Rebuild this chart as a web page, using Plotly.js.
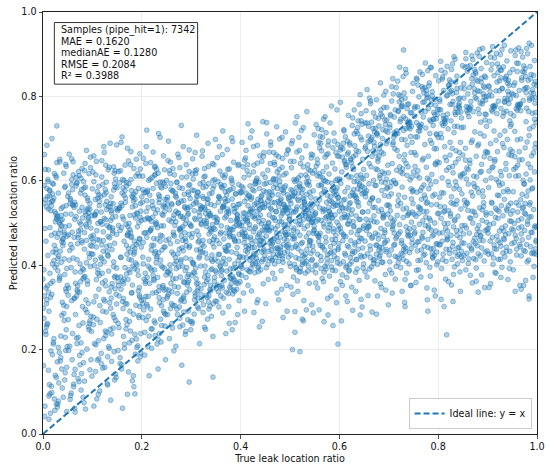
<!DOCTYPE html>
<html>
<head>
<meta charset="utf-8">
<script src="https://cdn.plot.ly/plotly-3.0.1.min.js"></script>
<style>
html,body{margin:0;padding:0;background:#fff;}
#chart{width:550px;height:471px;}
</style>
</head>
<body>
<div id="chart"></div>
<script>
// True leak location ratio (x), grouped by x strips of 0.05
const trueRatio = [
.003,.041,.017,.029,.011,.046,.022,.035,.008,.038,.014,.027,.049,.005,.032,.019,.043,.024,.001,.036,
.012,.045,.021,.031,.007,.039,.016,.028,.047,.010,.034,.023,.042,.002,.030,.018,.044,.026,.009,.037,
.015,.048,.020,.033,.006,.040,.025,.013,.046,.004,.031,.019,.038,.027,.011,.043,.022,.035,.008,.049,
.017,.029,.002,.041,.024,.036,.013,.045,.007,.032,.020,.039,.014,.026,.047,.010,.034,.005,.042,.028,
.064,.077,.099,.055,.082,.069,.093,.074,.051,.086,.062,.095,.071,.081,.057,.089,.066,.078,.097,.060,
.084,.073,.092,.052,.080,.068,.094,.076,.059,.087,.065,.098,.070,.083,.056,.090,.075,.063,.096,.054,
.081,.069,.088,.077,.061,.093,.072,.085,.058,.099,.067,.079,.052,.091,.074,.086,.063,.095,.057,.082,
.070,.089,.064,.076,.097,.060,.084,.055,.092,.078,.053,.091,.067,.079,.061,.096,.072,.085,.058,.088,
.112,.145,.121,.131,.107,.139,.116,.128,.147,.110,.134,.123,.142,.102,.130,.118,.144,.126,.109,.137,
.115,.148,.120,.133,.106,.140,.125,.113,.146,.104,.131,.119,.138,.127,.111,.143,.122,.135,.108,.149,
.117,.129,.102,.141,.124,.136,.113,.145,.107,.132,.120,.139,.114,.126,.147,.110,.134,.105,.142,.128,
.103,.141,.117,.129,.111,.146,.122,.135,.108,.138,.114,.127,.149,.105,.132,.119,.143,.124,.101,.136,
.184,.173,.192,.152,.180,.168,.194,.176,.159,.187,.165,.198,.170,.183,.156,.190,.175,.163,.196,.154,
.181,.169,.188,.177,.161,.193,.172,.185,.158,.199,.167,.179,.152,.191,.174,.186,.163,.195,.157,.182,
.170,.189,.164,.176,.197,.160,.184,.155,.192,.178,.153,.191,.167,.179,.161,.196,.172,.185,.158,.188,
.164,.177,.199,.155,.182,.169,.193,.174,.151,.186,.162,.195,.171,.181,.157,.189,.166,.178,.197,.160,
.215,.248,.220,.233,.206,.240,.225,.213,.246,.204,.231,.219,.238,.227,.211,.243,.222,.235,.208,.249,
.217,.229,.202,.241,.224,.236,.213,.245,.207,.232,.220,.239,.214,.226,.247,.210,.234,.205,.242,.228,
.203,.241,.217,.229,.211,.246,.222,.235,.208,.238,.214,.227,.249,.205,.232,.219,.243,.224,.201,.236,
.212,.245,.221,.231,.207,.239,.216,.228,.247,.210,.234,.223,.242,.202,.230,.218,.244,.226,.209,.237,
.281,.269,.288,.277,.261,.293,.272,.285,.258,.299,.267,.279,.252,.291,.274,.286,.263,.295,.257,.282,
.270,.289,.264,.276,.297,.260,.284,.255,.292,.278,.253,.291,.267,.279,.261,.296,.272,.285,.258,.288,
.264,.277,.299,.255,.282,.269,.293,.274,.251,.286,.262,.295,.271,.281,.257,.289,.266,.278,.297,.260,
.284,.273,.292,.252,.280,.268,.294,.276,.259,.287,.265,.298,.270,.283,.256,.290,.275,.263,.296,.254,
.317,.329,.302,.341,.324,.336,.313,.345,.307,.332,.320,.339,.314,.326,.347,.310,.334,.305,.342,.328,
.303,.341,.317,.329,.311,.346,.322,.335,.308,.338,.314,.327,.349,.305,.332,.319,.343,.324,.301,.336,
.312,.345,.321,.331,.307,.339,.316,.328,.347,.310,.334,.323,.342,.302,.330,.318,.344,.326,.309,.337,
.315,.348,.320,.333,.306,.340,.325,.313,.346,.304,.331,.319,.338,.327,.311,.343,.322,.335,.308,.349,
.370,.389,.364,.376,.397,.360,.384,.355,.392,.378,.353,.391,.367,.379,.361,.396,.372,.385,.358,.388,
.364,.377,.399,.355,.382,.369,.393,.374,.351,.386,.362,.395,.371,.381,.357,.389,.366,.378,.397,.360,
.384,.373,.392,.352,.380,.368,.394,.376,.359,.387,.365,.398,.370,.383,.356,.390,.375,.363,.396,.354,
.381,.369,.388,.377,.361,.393,.372,.385,.358,.399,.367,.379,.352,.391,.374,.386,.363,.395,.357,.382,
.438,.408,.435,.422,.446,.411,.429,.417,.441,.403,.436,.401,.424,.443,.419,.432,.405,.449,.427,.414,
.410,.447,.428,.416,.439,.407,.431,.421,.445,.412,.437,.409,.426,.444,.418,.430,.402,.442,.423,.434,
.404,.446,.413,.425,.440,.406,.433,.420,.448,.415,.449,.408,.435,.422,.443,.411,.427,.438,.419,.431,
.432,.407,.445,.413,.436,.424,.441,.402,.429,.417,.428,.442,.405,.434,.410,.447,.426,.414,.439,.420,
.486,.451,.474,.493,.469,.482,.455,.499,.477,.464,.460,.497,.478,.466,.489,.457,.481,.471,.495,.462,
.487,.459,.476,.494,.468,.480,.452,.492,.473,.484,.454,.496,.463,.475,.490,.456,.483,.470,.498,.465,
.499,.458,.485,.472,.493,.461,.477,.488,.469,.481,.482,.457,.495,.463,.486,.474,.491,.452,.479,.467,
.478,.492,.455,.484,.460,.497,.476,.464,.489,.470,.488,.458,.485,.472,.496,.461,.479,.467,.491,.453,
.510,.547,.528,.516,.539,.507,.531,.521,.545,.512,.537,.509,.526,.544,.518,.530,.502,.542,.523,.534,
.504,.546,.513,.525,.540,.506,.533,.520,.548,.515,.549,.508,.535,.522,.543,.511,.527,.538,.519,.531,
.532,.507,.545,.513,.536,.524,.541,.502,.529,.517,.528,.542,.505,.534,.510,.547,.526,.514,.539,.520,
.538,.508,.535,.522,.546,.511,.529,.517,.541,.503,.536,.501,.524,.543,.519,.532,.505,.549,.527,.514,
.587,.559,.576,.594,.568,.580,.552,.592,.573,.584,.554,.596,.563,.575,.590,.556,.583,.570,.598,.565,
.599,.558,.585,.572,.593,.561,.577,.588,.569,.581,.582,.557,.595,.563,.586,.574,.591,.552,.579,.567,
.578,.592,.555,.584,.560,.597,.576,.564,.589,.570,.588,.558,.585,.572,.596,.561,.579,.567,.591,.553,
.586,.551,.574,.593,.569,.582,.555,.599,.577,.564,.560,.597,.578,.566,.589,.557,.581,.571,.595,.562,
.604,.646,.613,.625,.640,.606,.633,.620,.648,.615,.649,.608,.635,.622,.643,.611,.627,.638,.619,.631,
.632,.607,.645,.613,.636,.624,.641,.602,.629,.617,.628,.642,.605,.634,.610,.647,.626,.614,.639,.620,
.638,.608,.635,.622,.646,.611,.629,.617,.641,.603,.636,.601,.624,.643,.619,.632,.605,.649,.627,.614,
.610,.647,.628,.616,.639,.607,.631,.621,.645,.612,.637,.609,.626,.644,.618,.630,.602,.642,.623,.634,
.699,.658,.685,.672,.693,.661,.677,.688,.669,.681,.682,.657,.695,.663,.686,.674,.691,.652,.679,.667,
.678,.692,.655,.684,.660,.697,.676,.664,.689,.670,.688,.658,.685,.672,.696,.661,.679,.667,.691,.653,
.686,.651,.674,.693,.669,.682,.655,.699,.677,.664,.660,.697,.678,.666,.689,.657,.681,.671,.695,.662,
.687,.659,.676,.694,.668,.680,.652,.692,.673,.684,.654,.696,.663,.675,.690,.656,.683,.670,.698,.665,
.732,.707,.745,.713,.736,.724,.741,.702,.729,.717,.728,.742,.705,.734,.710,.747,.726,.714,.739,.720,
.738,.708,.735,.722,.746,.711,.729,.717,.741,.703,.736,.701,.724,.743,.719,.732,.705,.749,.727,.714,
.710,.747,.728,.716,.739,.707,.731,.721,.745,.712,.737,.709,.726,.744,.718,.730,.702,.742,.723,.734,
.704,.746,.713,.725,.740,.706,.733,.720,.748,.715,.749,.708,.735,.722,.743,.711,.727,.738,.719,.731,
.778,.792,.755,.784,.760,.797,.776,.764,.789,.770,.788,.758,.785,.772,.796,.761,.779,.767,.791,.753,
.786,.751,.774,.793,.769,.782,.755,.799,.777,.764,.760,.797,.778,.766,.789,.757,.781,.771,.795,.762,
.787,.759,.776,.794,.768,.780,.752,.792,.773,.784,.754,.796,.763,.775,.790,.756,.783,.770,.798,.765,
.799,.758,.785,.772,.793,.761,.777,.788,.769,.781,.782,.757,.795,.763,.786,.774,.791,.752,.779,.767,
.812,.845,.821,.831,.807,.839,.816,.828,.847,.810,.834,.823,.842,.802,.830,.818,.844,.826,.809,.837,
.815,.848,.820,.833,.806,.840,.825,.813,.846,.804,.831,.819,.838,.827,.811,.843,.822,.835,.808,.849,
.817,.829,.802,.841,.824,.836,.813,.845,.807,.832,.820,.839,.814,.826,.847,.810,.834,.805,.842,.828,
.803,.841,.817,.829,.811,.846,.822,.835,.808,.838,.814,.827,.849,.805,.832,.819,.843,.824,.801,.836,
.881,.869,.888,.877,.861,.893,.872,.885,.858,.899,.867,.879,.852,.891,.874,.886,.863,.895,.857,.882,
.870,.889,.864,.876,.897,.860,.884,.855,.892,.878,.853,.891,.867,.879,.861,.896,.872,.885,.858,.888,
.864,.877,.899,.855,.882,.869,.893,.874,.851,.886,.862,.895,.871,.881,.857,.889,.866,.878,.897,.860,
.884,.873,.892,.852,.880,.868,.894,.876,.859,.887,.865,.898,.870,.883,.856,.890,.875,.863,.896,.854,
.903,.941,.917,.929,.911,.946,.922,.935,.908,.938,.914,.927,.949,.905,.932,.919,.943,.924,.901,.936,
.912,.945,.921,.931,.907,.939,.916,.928,.947,.910,.934,.923,.942,.902,.930,.918,.944,.926,.909,.937,
.915,.948,.920,.933,.906,.940,.925,.913,.946,.904,.931,.919,.938,.927,.911,.943,.922,.935,.908,.949,
.917,.929,.902,.941,.924,.936,.913,.945,.907,.932,.920,.939,.914,.926,.947,.910,.934,.905,.942,.928,
.984,.973,.992,.952,.980,.968,.994,.976,.959,.987,.965,.998,.970,.983,.956,.990,.975,.963,.996,.954,
.981,.969,.988,.977,.961,.993,.972,.985,.958,.999,.967,.979,.952,.991,.974,.986,.963,.995,.957,.982,
.970,.989,.964,.976,.997,.960,.984,.955,.992,.978,.953,.991,.967,.979,.961,.996,.972,.985,.958,.988,
.964,.977,.999,.955,.982,.969,.993,.974,.951,.986,.962,.995,.971,.981,.957,.989,.966,.978,.997,.960
];
// Predicted leak location ratio (y), same order as trueRatio
const predRatio = [
.042,.087,.113,.064,.151,.198,.226,.173,.259,.281,.095,.134,.207,.243,.121,.188,.269,.056,.162,.232,
.291,.145,.213,.078,.254,.312,.357,.401,.338,.423,.369,.447,.305,.389,.416,.331,.378,.438,.351,.407,
.324,.392,.431,.364,.346,.462,.503,.548,.521,.487,.571,.594,.456,.512,.533,.478,.559,.496,.582,.469,
.541,.517,.589,.453,.527,.506,.564,.491,.538,.475,.553,.508,.576,.612,.634,.603,.651,.627,.618,.643,
.061,.104,.137,.082,.169,.214,.247,.186,.271,.295,.118,.152,.229,.263,.097,.201,.283,.143,.176,.238,
.125,.257,.309,.346,.392,.327,.418,.361,.441,.318,.384,.427,.337,.372,.449,.355,.403,.321,.397,.435,
.368,.413,.459,.497,.542,.524,.481,.566,.591,.463,.515,.537,.472,.553,.502,.585,.466,.546,.521,.598,
.451,.531,.509,.571,.488,.543,.477,.558,.513,.579,.494,.535,.608,.629,.614,.656,.622,.641,.603,.672,
.094,.128,.156,.183,.211,.237,.264,.289,.142,.175,.203,.226,.251,.277,.119,.167,.195,.244,.272,.298,
.304,.331,.358,.386,.412,.437,.315,.343,.374,.399,.424,.448,.322,.351,.381,.408,.433,.311,.366,.393,
.419,.444,.455,.482,.511,.538,.567,.593,.614,.468,.497,.524,.551,.579,.604,.461,.489,.517,.546,.572,
.598,.476,.503,.532,.559,.585,.458,.491,.527,.562,.541,.508,.473,.519,.626,.648,.633,.667,.621,.689,
.112,.147,.173,.198,.222,.249,.276,.291,.164,.189,.213,.238,.259,.284,.181,.205,.267,.231,.302,.327,
.353,.379,.405,.431,.314,.339,.366,.392,.418,.443,.309,.334,.361,.388,.414,.439,.321,.347,.372,.398,
.426,.449,.457,.484,.513,.541,.568,.595,.617,.466,.494,.522,.549,.577,.603,.462,.491,.519,.547,.574,
.601,.478,.506,.534,.561,.588,.453,.499,.529,.556,.583,.611,.471,.538,.624,.651,.637,.669,.628,.704,
.138,.176,.203,.224,.241,.257,.268,.279,.286,.294,.213,.249,.272,.233,.303,.318,.334,.349,.362,.377,
.393,.406,.419,.436,.447,.311,.326,.341,.357,.371,.388,.399,.414,.428,.443,.307,.339,.367,.395,.432,
.454,.469,.483,.498,.512,.527,.541,.556,.572,.586,.601,.615,.459,.476,.489,.504,.518,.534,.549,.563,
.578,.594,.608,.462,.477,.493,.509,.523,.538,.553,.567,.582,.597,.611,.627,.643,.659,.632,.681,.703,
.163,.208,.236,.254,.262,.271,.283,.289,.297,.247,.304,.315,.327,.336,.348,.359,.367,.378,.389,.398,
.409,.417,.426,.438,.446,.309,.322,.341,.353,.372,.384,.394,.403,.413,.431,.442,.333,.361,.451,.463,
.472,.486,.494,.507,.515,.528,.536,.547,.555,.568,.576,.589,.597,.608,.617,.457,.469,.481,.498,.503,
.511,.523,.532,.543,.552,.564,.573,.584,.593,.477,.519,.539,.561,.491,.624,.638,.655,.629,.673,.694,
.214,.248,.266,.279,.288,.296,.301,.309,.318,.324,.331,.339,.346,.354,.361,.368,.376,.383,.391,.398,
.406,.413,.421,.428,.436,.443,.449,.313,.327,.342,.357,.372,.387,.402,.417,.432,.452,.459,.466,.474,
.481,.488,.496,.503,.511,.518,.526,.533,.541,.548,.556,.563,.571,.578,.586,.593,.601,.609,.617,.457,
.471,.485,.499,.514,.529,.544,.558,.573,.588,.604,.492,.507,.522,.537,.626,.641,.658,.634,.667,.698,
.238,.264,.287,.302,.316,.327,.332,.337,.343,.348,.353,.358,.364,.369,.375,.381,.386,.392,.397,.403,
.408,.414,.419,.425,.431,.436,.442,.447,.345,.367,.389,.411,.433,.356,.451,.456,.462,.467,.473,.478,
.484,.489,.495,.501,.506,.512,.517,.523,.528,.534,.539,.545,.551,.557,.563,.569,.576,.583,.591,.598,
.606,.614,.459,.476,.493,.509,.526,.542,.558,.574,.589,.471,.503,.536,.627,.644,.662,.636,.681,.702,
.254,.291,.318,.339,.356,.371,.382,.386,.389,.393,.397,.401,.404,.408,.412,.416,.419,.423,.427,.431,
.434,.438,.442,.446,.449,.453,.457,.461,.464,.468,.472,.476,.479,.483,.487,.491,.494,.498,.441,.467,
.502,.506,.511,.515,.519,.524,.528,.532,.537,.541,.546,.551,.556,.561,.566,.571,.576,.582,.588,.594,
.601,.608,.616,.624,.513,.534,.553,.573,.592,.521,.544,.563,.633,.642,.654,.667,.681,.638,.659,.702,
.276,.309,.334,.352,.368,.387,.402,.405,.409,.412,.416,.419,.423,.426,.429,.433,.436,.439,.443,.446,
.449,.453,.456,.459,.463,.466,.469,.473,.476,.479,.483,.486,.489,.493,.496,.499,.503,.506,.509,.513,
.516,.519,.523,.527,.531,.535,.539,.544,.548,.553,.557,.562,.567,.572,.577,.582,.588,.594,.599,.605,
.611,.618,.625,.632,.641,.536,.551,.566,.584,.603,.529,.574,.653,.661,.672,.684,.699,.667,.716,.738,
.241,.287,.316,.338,.357,.372,.381,.385,.389,.394,.398,.402,.407,.411,.415,.419,.424,.428,.432,.437,
.441,.445,.449,.454,.458,.462,.467,.471,.475,.479,.484,.488,.493,.497,.501,.504,.508,.511,.515,.518,
.522,.525,.529,.532,.536,.539,.543,.546,.550,.553,.557,.561,.564,.568,.572,.576,.580,.584,.589,.593,
.598,.603,.608,.613,.618,.527,.548,.571,.624,.631,.638,.646,.654,.663,.672,.683,.695,.709,.726,.752,
.257,.294,.321,.343,.361,.374,.382,.387,.391,.396,.401,.406,.411,.416,.421,.426,.431,.436,.441,.446,
.451,.456,.461,.466,.471,.476,.481,.486,.491,.496,.444,.468,.502,.506,.511,.515,.519,.524,.528,.533,
.537,.542,.546,.551,.555,.560,.565,.569,.574,.579,.584,.589,.594,.599,.604,.610,.616,.622,.628,.635,
.642,.521,.549,.577,.601,.563,.651,.658,.664,.671,.678,.686,.694,.703,.713,.724,.737,.752,.768,.689,
.268,.301,.327,.348,.364,.377,.383,.388,.393,.398,.403,.408,.413,.418,.423,.428,.433,.438,.443,.448,
.453,.458,.463,.468,.473,.478,.483,.488,.493,.498,.503,.508,.512,.517,.521,.526,.531,.535,.540,.545,
.549,.554,.559,.564,.569,.574,.579,.584,.589,.594,.599,.604,.609,.614,.533,.566,.621,.627,.633,.639,
.645,.651,.657,.663,.669,.676,.683,.690,.697,.704,.712,.721,.731,.742,.755,.768,.786,.804,.649,.672,
.306,.328,.347,.363,.378,.391,.402,.407,.412,.417,.422,.427,.432,.437,.442,.447,.452,.457,.462,.467,
.472,.477,.482,.487,.492,.497,.502,.507,.512,.517,.522,.527,.532,.537,.542,.547,.553,.559,.565,.571,
.577,.583,.589,.595,.601,.607,.613,.619,.626,.633,.641,.584,.652,.658,.664,.670,.676,.682,.688,.694,
.700,.706,.712,.718,.724,.730,.737,.744,.751,.758,.766,.774,.783,.792,.803,.816,.832,.691,.715,.739,
.312,.334,.352,.367,.381,.394,.403,.408,.414,.419,.425,.430,.436,.441,.447,.452,.458,.463,.469,.474,
.480,.485,.491,.496,.502,.507,.513,.518,.524,.529,.535,.540,.546,.471,.553,.561,.569,.577,.585,.593,
.601,.609,.617,.625,.633,.641,.649,.658,.667,.676,.684,.691,.698,.705,.712,.719,.726,.733,.740,.747,
.754,.761,.768,.775,.782,.789,.796,.804,.812,.821,.831,.842,.855,.869,.723,.751,.779,.737,.764,.808,
.318,.341,.359,.374,.389,.401,.406,.412,.417,.423,.428,.434,.439,.445,.450,.456,.461,.467,.472,.478,
.483,.489,.494,.500,.505,.511,.516,.522,.527,.533,.538,.544,.549,.556,.564,.573,.581,.590,.598,.607,
.615,.624,.632,.641,.649,.658,.667,.676,.686,.696,.704,.711,.718,.725,.731,.738,.744,.751,.757,.763,
.769,.775,.781,.787,.793,.799,.805,.811,.818,.825,.832,.840,.849,.858,.868,.879,.746,.772,.798,.823,
.302,.338,.361,.378,.392,.403,.409,.414,.420,.426,.431,.437,.443,.448,.454,.460,.465,.471,.477,.482,
.488,.494,.499,.505,.511,.516,.522,.528,.533,.539,.545,.462,.553,.562,.571,.580,.589,.598,.607,.616,
.625,.634,.643,.652,.661,.671,.681,.691,.702,.714,.723,.729,.736,.742,.749,.755,.762,.768,.775,.781,
.788,.794,.801,.807,.814,.820,.827,.834,.841,.848,.856,.864,.873,.883,.894,.758,.784,.811,.837,.771,
.336,.358,.377,.393,.404,.410,.416,.422,.428,.434,.440,.446,.452,.458,.464,.470,.476,.482,.488,.494,
.500,.506,.512,.518,.524,.530,.536,.542,.548,.473,.554,.563,.573,.582,.592,.601,.611,.620,.630,.639,
.649,.658,.668,.677,.687,.696,.706,.716,.727,.739,.752,.758,.764,.770,.776,.782,.788,.794,.800,.806,
.812,.818,.824,.830,.836,.842,.848,.854,.860,.866,.873,.880,.887,.895,.904,.914,.797,.821,.845,.869,
.347,.366,.381,.395,.402,.408,.414,.420,.427,.433,.439,.445,.451,.457,.463,.469,.475,.481,.487,.493,
.499,.505,.511,.517,.523,.529,.535,.541,.547,.466,.556,.565,.574,.584,.593,.603,.612,.622,.631,.641,
.650,.660,.669,.679,.688,.698,.708,.718,.729,.741,.753,.759,.765,.771,.777,.783,.789,.795,.801,.807,
.813,.819,.825,.831,.837,.843,.849,.856,.863,.870,.877,.884,.891,.899,.908,.918,.786,.812,.838,.862,
.327,.352,.371,.389,.408,.422,.427,.433,.438,.444,.449,.455,.460,.466,.471,.477,.482,.488,.493,.499,
.504,.510,.515,.521,.526,.532,.537,.543,.548,.491,.555,.564,.574,.583,.593,.602,.612,.621,.631,.640,
.650,.659,.669,.678,.688,.697,.707,.717,.728,.740,.754,.760,.766,.772,.778,.784,.790,.796,.802,.808,
.814,.820,.826,.832,.838,.844,.850,.857,.864,.871,.878,.885,.893,.901,.910,.921,.781,.809,.835,.859
];
// Second reading pass over the same strips (fills the dense cloud)
const trueRatioB = [
.027,.006,.044,.015,.033,.002,.039,.021,.048,.012,.009,.036,.018,.047,.025,.004,.031,.042,.013,.029,
.045,.023,.001,.038,.016,.034,.008,.026,.049,.019,.011,.040,.030,.007,.043,.020,.035,.003,.024,.046,
.032,.014,.048,.022,.000,.037,.017,.045,.028,.005,.041,.010,.026,.035,.019,.047,.006,.030,.013,.038,
.002,.029,.016,.044,.033,.009,.024,.040,.021,.014,.037,.018,.043,.011,.027,.003,.046,.023,.008,.034,
.077,.056,.094,.065,.083,.052,.089,.071,.098,.062,.059,.086,.068,.097,.075,.054,.081,.092,.063,.079,
.095,.073,.051,.088,.066,.084,.058,.076,.099,.069,.061,.090,.080,.057,.093,.070,.085,.053,.074,.096,
.082,.064,.098,.072,.050,.087,.067,.095,.078,.055,.091,.060,.076,.085,.069,.097,.056,.080,.063,.088,
.052,.079,.066,.094,.083,.059,.074,.090,.071,.064,.087,.068,.093,.061,.077,.053,.096,.073,.058,.084,
.127,.106,.144,.115,.133,.102,.139,.121,.148,.112,.109,.136,.118,.147,.125,.104,.131,.142,.113,.129,
.145,.123,.101,.138,.116,.134,.108,.126,.149,.119,.111,.140,.130,.107,.143,.120,.135,.103,.124,.146,
.132,.114,.148,.122,.100,.137,.117,.145,.128,.105,.141,.110,.126,.135,.119,.147,.106,.130,.113,.138,
.102,.129,.116,.144,.133,.109,.124,.140,.121,.114,.137,.118,.143,.111,.127,.103,.146,.123,.108,.134,
.177,.156,.194,.165,.183,.152,.189,.171,.198,.162,.159,.186,.168,.197,.175,.154,.181,.192,.163,.179,
.195,.173,.151,.188,.166,.184,.158,.176,.199,.169,.161,.190,.180,.157,.193,.170,.185,.153,.174,.196,
.182,.164,.198,.172,.150,.187,.167,.195,.178,.155,.191,.160,.176,.185,.169,.197,.156,.180,.163,.188,
.152,.179,.166,.194,.183,.159,.174,.190,.171,.164,.187,.168,.193,.161,.177,.153,.196,.173,.158,.184,
.227,.206,.244,.215,.233,.202,.239,.221,.248,.212,.209,.236,.218,.247,.225,.204,.231,.242,.213,.229,
.245,.223,.201,.238,.216,.234,.208,.226,.249,.219,.211,.240,.230,.207,.243,.220,.235,.203,.224,.246,
.232,.214,.248,.222,.200,.237,.217,.245,.228,.205,.241,.210,.226,.235,.219,.247,.206,.230,.213,.238,
.202,.229,.216,.244,.233,.209,.224,.240,.221,.214,.237,.218,.243,.211,.227,.203,.246,.223,.208,.234,
.277,.256,.294,.265,.283,.252,.289,.271,.298,.262,.259,.286,.268,.297,.275,.254,.281,.292,.263,.279,
.295,.273,.251,.288,.266,.284,.258,.276,.299,.269,.261,.290,.280,.257,.293,.270,.285,.253,.274,.296,
.282,.264,.298,.272,.250,.287,.267,.295,.278,.255,.291,.260,.276,.285,.269,.297,.256,.280,.263,.288,
.252,.279,.266,.294,.283,.259,.274,.290,.271,.264,.287,.268,.293,.261,.277,.253,.296,.273,.258,.284,
.327,.306,.344,.315,.333,.302,.339,.321,.348,.312,.309,.336,.318,.347,.325,.304,.331,.342,.313,.329,
.345,.323,.301,.338,.316,.334,.308,.326,.349,.319,.311,.340,.330,.307,.343,.320,.335,.303,.324,.346,
.332,.314,.348,.322,.300,.337,.317,.345,.328,.305,.341,.310,.326,.335,.319,.347,.306,.330,.313,.338,
.302,.329,.316,.344,.333,.309,.324,.340,.321,.314,.337,.318,.343,.311,.327,.303,.346,.323,.308,.334,
.377,.356,.394,.365,.383,.352,.389,.371,.398,.362,.359,.386,.368,.397,.375,.354,.381,.392,.363,.379,
.395,.373,.351,.388,.366,.384,.358,.376,.399,.369,.361,.390,.380,.357,.393,.370,.385,.353,.374,.396,
.382,.364,.398,.372,.350,.387,.367,.395,.378,.355,.391,.360,.376,.385,.369,.397,.356,.380,.363,.388,
.352,.379,.366,.394,.383,.359,.374,.390,.371,.364,.387,.368,.393,.361,.377,.353,.396,.373,.358,.384,
.427,.406,.444,.415,.433,.402,.439,.421,.448,.412,.409,.436,.418,.447,.425,.404,.431,.442,.413,.429,
.445,.423,.401,.438,.416,.434,.408,.426,.449,.419,.411,.440,.430,.407,.443,.420,.435,.403,.424,.446,
.432,.414,.448,.422,.400,.437,.417,.445,.428,.405,.441,.410,.426,.435,.419,.447,.406,.430,.413,.438,
.402,.429,.416,.444,.433,.409,.424,.440,.421,.414,.437,.418,.443,.411,.427,.403,.446,.423,.408,.434,
.477,.456,.494,.465,.483,.452,.489,.471,.498,.462,.459,.486,.468,.497,.475,.454,.481,.492,.463,.479,
.495,.473,.451,.488,.466,.484,.458,.476,.499,.469,.461,.490,.480,.457,.493,.470,.485,.453,.474,.496,
.482,.464,.498,.472,.450,.487,.467,.495,.478,.455,.491,.460,.476,.485,.469,.497,.456,.480,.463,.488,
.452,.479,.466,.494,.483,.459,.474,.490,.471,.464,.487,.468,.493,.461,.477,.453,.496,.473,.458,.484,
.527,.506,.544,.515,.533,.502,.539,.521,.548,.512,.509,.536,.518,.547,.525,.504,.531,.542,.513,.529,
.545,.523,.501,.538,.516,.534,.508,.526,.549,.519,.511,.540,.530,.507,.543,.520,.535,.503,.524,.546,
.532,.514,.548,.522,.500,.537,.517,.545,.528,.505,.541,.510,.526,.535,.519,.547,.506,.530,.513,.538,
.502,.529,.516,.544,.533,.509,.524,.540,.521,.514,.537,.518,.543,.511,.527,.503,.546,.523,.508,.534,
.577,.556,.594,.565,.583,.552,.589,.571,.598,.562,.559,.586,.568,.597,.575,.554,.581,.592,.563,.579,
.595,.573,.551,.588,.566,.584,.558,.576,.599,.569,.561,.590,.580,.557,.593,.570,.585,.553,.574,.596,
.582,.564,.598,.572,.550,.587,.567,.595,.578,.555,.591,.560,.576,.585,.569,.597,.556,.580,.563,.588,
.552,.579,.566,.594,.583,.559,.574,.590,.571,.564,.587,.568,.593,.561,.577,.553,.596,.573,.558,.584,
.627,.606,.644,.615,.633,.602,.639,.621,.648,.612,.609,.636,.618,.647,.625,.604,.631,.642,.613,.629,
.645,.623,.601,.638,.616,.634,.608,.626,.649,.619,.611,.640,.630,.607,.643,.620,.635,.603,.624,.646,
.632,.614,.648,.622,.600,.637,.617,.645,.628,.605,.641,.610,.626,.635,.619,.647,.606,.630,.613,.638,
.602,.629,.616,.644,.633,.609,.624,.640,.621,.614,.637,.618,.643,.611,.627,.603,.646,.623,.608,.634,
.677,.656,.694,.665,.683,.652,.689,.671,.698,.662,.659,.686,.668,.697,.675,.654,.681,.692,.663,.679,
.695,.673,.651,.688,.666,.684,.658,.676,.699,.669,.661,.690,.680,.657,.693,.670,.685,.653,.674,.696,
.682,.664,.698,.672,.650,.687,.667,.695,.678,.655,.691,.660,.676,.685,.669,.697,.656,.680,.663,.688,
.652,.679,.666,.694,.683,.659,.674,.690,.671,.664,.687,.668,.693,.661,.677,.653,.696,.673,.658,.684,
.727,.706,.744,.715,.733,.702,.739,.721,.748,.712,.709,.736,.718,.747,.725,.704,.731,.742,.713,.729,
.745,.723,.701,.738,.716,.734,.708,.726,.749,.719,.711,.740,.730,.707,.743,.720,.735,.703,.724,.746,
.732,.714,.748,.722,.700,.737,.717,.745,.728,.705,.741,.710,.726,.735,.719,.747,.706,.730,.713,.738,
.702,.729,.716,.744,.733,.709,.724,.740,.721,.714,.737,.718,.743,.711,.727,.703,.746,.723,.708,.734,
.777,.756,.794,.765,.783,.752,.789,.771,.798,.762,.759,.786,.768,.797,.775,.754,.781,.792,.763,.779,
.795,.773,.751,.788,.766,.784,.758,.776,.799,.769,.761,.790,.780,.757,.793,.770,.785,.753,.774,.796,
.782,.764,.798,.772,.750,.787,.767,.795,.778,.755,.791,.760,.776,.785,.769,.797,.756,.780,.763,.788,
.752,.779,.766,.794,.783,.759,.774,.790,.771,.764,.787,.768,.793,.761,.777,.753,.796,.773,.758,.784,
.827,.806,.844,.815,.833,.802,.839,.821,.848,.812,.809,.836,.818,.847,.825,.804,.831,.842,.813,.829,
.845,.823,.801,.838,.816,.834,.808,.826,.849,.819,.811,.840,.830,.807,.843,.820,.835,.803,.824,.846,
.832,.814,.848,.822,.800,.837,.817,.845,.828,.805,.841,.810,.826,.835,.819,.847,.806,.830,.813,.838,
.802,.829,.816,.844,.833,.809,.824,.840,.821,.814,.837,.818,.843,.811,.827,.803,.846,.823,.808,.834,
.877,.856,.894,.865,.883,.852,.889,.871,.898,.862,.859,.886,.868,.897,.875,.854,.881,.892,.863,.879,
.895,.873,.851,.888,.866,.884,.858,.876,.899,.869,.861,.890,.880,.857,.893,.870,.885,.853,.874,.896,
.882,.864,.898,.872,.850,.887,.867,.895,.878,.855,.891,.860,.876,.885,.869,.897,.856,.880,.863,.888,
.852,.879,.866,.894,.883,.859,.874,.890,.871,.864,.887,.868,.893,.861,.877,.853,.896,.873,.858,.884,
.927,.906,.944,.915,.933,.902,.939,.921,.948,.912,.909,.936,.918,.947,.925,.904,.931,.942,.913,.929,
.945,.923,.901,.938,.916,.934,.908,.926,.949,.919,.911,.940,.930,.907,.943,.920,.935,.903,.924,.946,
.932,.914,.948,.922,.900,.937,.917,.945,.928,.905,.941,.910,.926,.935,.919,.947,.906,.930,.913,.938,
.902,.929,.916,.944,.933,.909,.924,.940,.921,.914,.937,.918,.943,.911,.927,.903,.946,.923,.908,.934,
.977,.956,.994,.965,.983,.952,.989,.971,.998,.962,.959,.986,.968,.997,.975,.954,.981,.992,.963,.979,
.995,.973,.951,.988,.966,.984,.958,.976,.999,.969,.961,.990,.980,.957,.993,.970,.985,.953,.974,.996,
.982,.964,.998,.972,.950,.987,.967,.995,.978,.955,.991,.960,.976,.985,.969,.997,.956,.980,.963,.988,
.952,.979,.966,.994,.983,.959,.974,.990,.971,.964,.987,.968,.993,.961,.977,.953,.996,.973,.958,.984
];
const predRatioB = [
.071,.236,.128,.049,.193,.274,.109,.217,.158,.035,.262,.181,.098,.247,.139,.066,.205,.286,.117,.171,.229,.083,.298,.154,.197,
.374,.318,.429,.352,.403,.336,.446,.387,.309,.415,.362,.433,.327,.395,.344,.421,.381,.302,.411,.367,
.534,.471,.587,.509,.556,.463,.598,.522,.484,.569,.541,.457,.515,.578,.493,.547,.466,.529,.584,.501,.562,.476,.538,.592,.489,.518,.551,.473,
.626,.608,.662,.639,.617,.684,.645,
.216,.091,.262,.153,.074,.198,.288,.131,.243,.112,.176,.059,.227,.279,.164,.208,.087,.254,.141,.193,.268,.124,
.329,.406,.357,.438,.316,.384,.445,.341,.417,.363,.302,.394,.428,.351,.373,.412,.336,.447,.389,.322,
.517,.472,.563,.496,.588,.533,.458,.546,.507,.579,.484,.526,.596,.468,.554,.512,.537,.491,.571,.453,.543,.502,.583,.478,.528,.559,.465,.549,.519,.594,
.617,.645,.606,.663,.631,.612,.652,.624,
.233,.148,.276,.102,.207,.259,.172,.291,.134,.221,.083,.248,.191,.269,.158,.214,.116,.283,.178,.241,
.371,.319,.426,.348,.402,.337,.443,.363,.308,.415,.389,.356,.432,.326,.397,.381,.447,.313,.408,.344,.421,.376,
.534,.479,.581,.506,.563,.452,.597,.521,.488,.574,.543,.465,.609,.515,.556,.494,.587,.529,.471,.551,.503,.618,.538,.482,.567,.512,.591,.459,.547,.526,.578,.499,
.637,.659,.624,.681,.646,.632,
.244,.167,.281,.203,.138,.262,.225,.094,.192,.297,.154,.236,.271,.183,.216,.252,.126,.209,
.356,.412,.328,.439,.371,.305,.394,.426,.343,.383,.317,.447,.362,.401,.335,.419,.376,.308,.431,.352,.389,.324,.444,.367,
.528,.476,.584,.512,.559,.463,.603,.537,.491,.571,.518,.457,.596,.546,.482,.564,.509,.611,.533,.468,.577,.501,.552,.489,.593,.524,.471,.566,.541,.497,.582,.515,
.638,.622,.664,.647,.691,.629,
.263,.187,.291,.232,.154,.276,.218,.249,.283,.207,.269,.238,.296,.256,
.364,.318,.421,.347,.398,.335,.443,.376,.308,.412,.357,.429,.326,.389,.343,.436,.371,.304,.417,.381,.352,.447,.323,.403,.367,.392,
.531,.478,.587,.514,.562,.457,.604,.543,.496,.572,.521,.466,.613,.548,.487,.556,.508,.594,.537,.471,.579,.502,.566,.493,.618,.527,.463,.583,.551,.511,.597,.482,.539,.574,
.634,.653,.626,.668,.641,.712,
.274,.226,.291,.197,.258,.283,.243,.296,.267,.251,
.357,.314,.418,.342,.396,.331,.441,.373,.305,.409,.364,.427,.322,.387,.349,.434,.378,.301,.414,.368,.337,.446,.319,.401,.359,.392,.327,.383,
.524,.473,.582,.511,.558,.456,.601,.539,.494,.567,.516,.462,.609,.546,.485,.553,.503,.591,.531,.469,.576,.498,.561,.488,.614,.522,.459,.579,.548,.507,.596,.478,.536,.571,.519,.543,
.631,.648,.622,.663,.644,.681,
.253,.284,.231,.297,.272,.262,
.352,.318,.414,.339,.393,.327,.438,.371,.306,.405,.361,.424,.322,.384,.347,.431,.376,.303,.417,.366,.334,.445,.315,.398,.356,.389,.328,.381,.409,.344,
.527,.475,.584,.513,.557,.455,.603,.538,.492,.569,.517,.461,.611,.545,.484,.552,.505,.593,.532,.467,.577,.499,.563,.486,.616,.523,.458,.581,.547,.508,.596,.479,.535,.573,.518,.541,.496,.564,
.629,.652,.638,.671,.624,.689,
.262,.301,.283,.322,.247,.314,
.363,.336,.421,.352,.398,.341,.442,.378,.333,.409,.369,.428,.346,.391,.357,.434,.383,.338,.416,.373,.349,.446,.361,.403,.386,.394,.344,.426,
.521,.476,.582,.509,.553,.457,.601,.537,.493,.566,.514,.462,.608,.544,.486,.549,.504,.591,.528,.468,.574,.498,.561,.483,.613,.526,.459,.579,.542,.506,.594,.474,.533,.569,.516,.538,.491,.557,.511,.586,
.628,.655,.639,.674,.623,.693,
.288,.334,.267,.352,.311,.376,
.447,.392,.481,.418,.463,.385,.496,.434,.401,.472,.426,.458,.389,.487,.414,.451,.397,.476,.439,.409,.468,.422,.492,.384,.444,.459,.405,.484,.431,.466,.394,.478,.417,.455,
.547,.506,.592,.528,.571,.503,.614,.538,.517,.583,.553,.509,.621,.542,.526,.576,.514,.598,.559,.532,.587,.511,.566,.544,.606,.523,.579,.535,.556,.502,.597,.563,
.646,.672,.637,.691,.658,.718,.649,.684,
.318,.366,.291,.381,.343,.394,
.462,.418,.497,.436,.481,.407,.512,.448,.426,.489,.443,.471,.411,.504,.433,.467,.414,.494,.456,.422,.484,.438,.509,.403,.459,.477,.429,.501,.446,.486,.415,.492,.441,.473,.517,.451,
.561,.527,.608,.543,.584,.523,.627,.552,.534,.596,.567,.529,.638,.557,.541,.589,.531,.614,.573,.547,.603,.536,.579,.559,.621,.538,.592,.549,.571,.644,
.663,.692,.657,.711,.674,.728,.668,.703,
.268,.331,.306,.363,.294,.348,
.447,.393,.481,.418,.463,.386,.496,.434,.402,.472,.426,.458,.389,.487,.414,.451,.397,.476,.439,.409,.468,.422,.492,.384,.444,.455,.405,.483,
.547,.506,.592,.528,.571,.503,.614,.538,.517,.583,.553,.509,.607,.542,.526,.576,.514,.598,.559,.532,.587,.511,.566,.544,.602,.523,.579,.535,.556,.502,.597,.563,.519,.573,
.641,.668,.627,.703,.654,.737,.633,.688,.661,.719,.646,.764,
.282,.346,.311,.369,.327,.358,
.452,.397,.484,.421,.466,.388,.498,.437,.404,.475,.428,.461,.392,.489,.416,.455,.399,.479,.442,.411,.471,.425,.494,.383,.447,.433,
.553,.508,.601,.531,.578,.504,.633,.542,.519,.592,.561,.512,.624,.547,.527,.583,.516,.612,.566,.536,.597,.513,.574,.549,.641,.526,.588,.539,.557,.503,.607,.568,.521,.617,
.662,.694,.656,.721,.678,.746,.667,.705,.684,.733,.659,.714,.691,.777,
.293,.352,.319,.371,.338,.361,
.456,.402,.488,.424,.469,.391,.497,.441,.408,.478,.431,.464,.395,.491,.419,.458,.403,.482,.446,.414,.473,.427,.493,.386,
.556,.509,.598,.534,.578,.505,.612,.543,.521,.587,.562,.513,.604,.548,.528,.581,.517,.607,.566,.537,.593,.514,.572,.551,.609,.526,
.656,.711,.638,.742,.673,.627,.694,.759,.661,.718,.643,.781,.685,.632,.726,.667,.703,.648,.749,.679,.734,.652,.689,.717,
.327,.372,.341,.396,.356,.384,
.468,.413,.521,.446,.492,.407,.537,.459,.426,.509,.443,.483,.418,.528,.437,.476,.421,.514,.464,.431,.499,.448,.543,.404,.472,.518,.436,.488,.455,.503,
.597,.562,.628,.581,.613,.554,.637,.589,.571,.621,.559,.604,.646,.576,.617,.593,
.712,.668,.761,.694,.737,.658,.789,.721,.677,.748,.703,.812,.686,.729,.665,.774,.716,.698,.753,.671,.733,.796,.708,.681,.744,.724,.692,.768,
.338,.381,.352,.397,.366,.389,
.472,.416,.526,.449,.495,.409,.541,.462,.428,.512,.445,.486,.421,.533,.439,.479,.424,.518,.467,.433,.503,.452,.546,.406,.476,.521,.437,.491,
.602,.566,.641,.586,.621,.557,.662,.594,.574,.633,.563,.613,.672,.581,.628,.597,
.741,.703,.792,.724,.766,.691,.823,.752,.709,.781,.733,.847,.718,.761,.697,.806,.746,.727,.787,.712,.771,.836,.738,.714,.776,.757,.729,.801,.686,.864,
.346,.388,.327,.372,.395,
.474,.419,.527,.451,.497,.411,.543,.464,.431,.514,.447,.488,.423,.536,.442,.481,.426,.521,.469,.436,.506,.455,.547,.408,.478,.523,.439,.493,
.612,.568,.653,.591,.634,.559,.676,.602,.577,.645,.566,.621,.689,.584,.638,.606,.661,
.762,.718,.814,.741,.786,.709,.843,.771,.726,.801,.753,.861,.734,.779,.712,.827,.764,.745,.808,.729,.791,.852,.757,.731,.796,.776,.747,.821,.704,.869,
.353,.319,.384,.367,.396,
.476,.421,.529,.453,.499,.413,.544,.467,.433,.516,.449,.491,.425,.538,.444,.483,.428,.523,.471,.438,.508,.457,.548,.411,.481,.526,.441,
.619,.572,.667,.598,.643,.561,.691,.609,.581,.656,.569,.631,.703,.588,.648,.613,.677,.712,
.779,.731,.834,.757,.803,.726,.862,.788,.741,.819,.769,.877,.748,.796,.729,.846,.781,.762,.826,.744,.809,.871,.773,.747,.814,.793,.763,.839,.736,.888,
.362,.389,.347,.376,
.479,.423,.531,.456,.502,.415,.546,.469,.436,.519,.451,.494,.427,.539,.446,.486,.431,.526,.474,.441,.511,.459,.549,.413,.484,.528,
.627,.576,.683,.604,.657,.564,.712,.618,.586,.669,.572,.641,.729,.593,.661,.622,.691,.744,.609,.649,
.806,.761,.858,.784,.829,.757,.889,.813,.769,.843,.796,.903,.776,.821,.759,.871,.808,.789,.851,.772,.834,.896,.799,.774,.839,.818,.791,.864,.766,.911,
.371,.356,.392,.383,
.481,.426,.533,.458,.504,.417,.547,.472,.438,.521,.453,.496,.429,.541,.448,.488,.433,.528,.476,.443,.513,.461,.549,.414,.486,.531,
.633,.579,.688,.607,.662,.566,.718,.623,.589,.674,.574,.646,.734,.597,.666,.627,.696,.742,.612,.653,
.812,.764,.863,.788,.834,.759,.893,.818,.772,.848,.801,.911,.779,.826,.761,.876,.813,.792,.856,.776,.839,.902,.804,.777,.844,.823,.794,.869,.768,.921,
.364,.338,.397,.352,.412,
.483,.428,.534,.459,.506,.424,.548,.474,.439,.523,.454,.497,.431,.542,.449,.489,.435,.529,.478,.444,.514,.463,.546,.426,.491,
.637,.581,.692,.611,.666,.568,.723,.627,.592,.678,.576,.649,.738,.601,.669,.631,.699,.746,.616,.657,
.816,.767,.866,.791,.838,.762,.897,.821,.774,.852,.804,.914,.782,.829,.764,.879,.817,.795,.859,.779,.842,.906,.807,.781,.847,.826,.797,.872,.771,.926
];
// Isolated stragglers
const extraTrue = [.028,.018,.280,.210,.149,.171,.415,.445,.364,.311,.597,.520,.505,.817,.730,.296,.344,.161,.012,.030,.048,.065,.103,.137,.186,
.963,.830,.984,.968,.779,.733,.642,.666,.675,.569,.525,.510,.616];
const extraPred = [.730,.700,.731,.720,.685,.677,.735,.740,.718,.708,.213,.195,.200,.235,.910,.123,.135,.061,.090,.071,.053,.052,.066,.080,.095,
.915,.314,.320,.343,.291,.302,.282,.289,.284,.266,.272,.290,.314];

const idealX = [0, 1];
const idealY = [0, 1];
const tickVals = [0, 0.2, 0.4, 0.6, 0.8, 1.0];
const tickText = ['0.0', '0.2', '0.4', '0.6', '0.8', '1.0'];
const statLines = ['Samples (pipe_hit=1): 7342', 'MAE = 0.1620', 'medianAE = 0.1280', 'RMSE = 0.2084', 'R\u00b2 = 0.3988'];

const FONT = 'DejaVu Sans, Liberation Sans, sans-serif';
const blue = '#1f77b4';

const scatter = {
  type: 'scatter', mode: 'markers',
  x: trueRatio.concat(trueRatioB, extraTrue),
  y: predRatio.concat(predRatioB, extraPred),
  marker: {size: 4.8, color: 'rgba(31,119,180,0.34)', line: {color: 'rgba(31,119,180,0.62)', width: 0.7}},
  showlegend: false, hoverinfo: 'x+y'
};
const ideal = {
  type: 'scatter', mode: 'lines', x: idealX, y: idealY,
  name: 'Ideal line: y = x',
  line: {color: blue, width: 2, dash: '6px,3px'}
};

const axisCommon = {
  range: [0, 1], tickvals: tickVals, ticktext: tickText,
  showgrid: true, gridcolor: '#e8e8e8', gridwidth: 0.8,
  zeroline: false, showline: true, mirror: true, linecolor: '#222', linewidth: 1,
  ticks: 'outside', ticklen: 3.5, tickwidth: 0.8, tickcolor: '#222',
  tickfont: {family: FONT, size: 9.6, color: '#111'}, fixedrange: true
};

const annotations = statLines.map((t, i) => ({
  xref: 'paper', yref: 'paper', x: 0.032, y: 0.957 - i * 0.0268,
  xanchor: 'left', yanchor: 'middle', text: t, showarrow: false,
  font: {family: FONT, size: 9.6, color: '#111'}
}));

const layout = {
  width: 550, height: 471,
  margin: {l: 43, r: 13, t: 12, b: 37},
  paper_bgcolor: '#fff', plot_bgcolor: '#fff',
  font: {family: FONT, size: 9.6, color: '#111'},
  xaxis: Object.assign({}, axisCommon, {title: {text: 'True leak location ratio', font: {family: FONT, size: 9.6, color: '#111'}, standoff: 4}}),
  yaxis: Object.assign({}, axisCommon, {title: {text: 'Predicted leak location ratio', font: {family: FONT, size: 9.6, color: '#111'}, standoff: 1}}),
  showlegend: true,
  legend: {
    x: 0.989, y: 0.012, xanchor: 'right', yanchor: 'bottom',
    bgcolor: 'rgba(255,255,255,0.85)', bordercolor: '#cccccc', borderwidth: 1,
    font: {family: FONT, size: 9.6, color: '#111'}, itemwidth: 30
  },
  shapes: [{
    type: 'rect', xref: 'paper', yref: 'paper', x0: 0.023, x1: 0.313, y0: 0.829, y1: 0.975,
    line: {color: '#333', width: 1}, fillcolor: 'rgba(255,255,255,0.9)', layer: 'above'
  }],
  annotations: annotations
};

Plotly.newPlot('chart', [scatter, ideal], layout, {displayModeBar: false, staticPlot: true});
</script>
</body>
</html>
